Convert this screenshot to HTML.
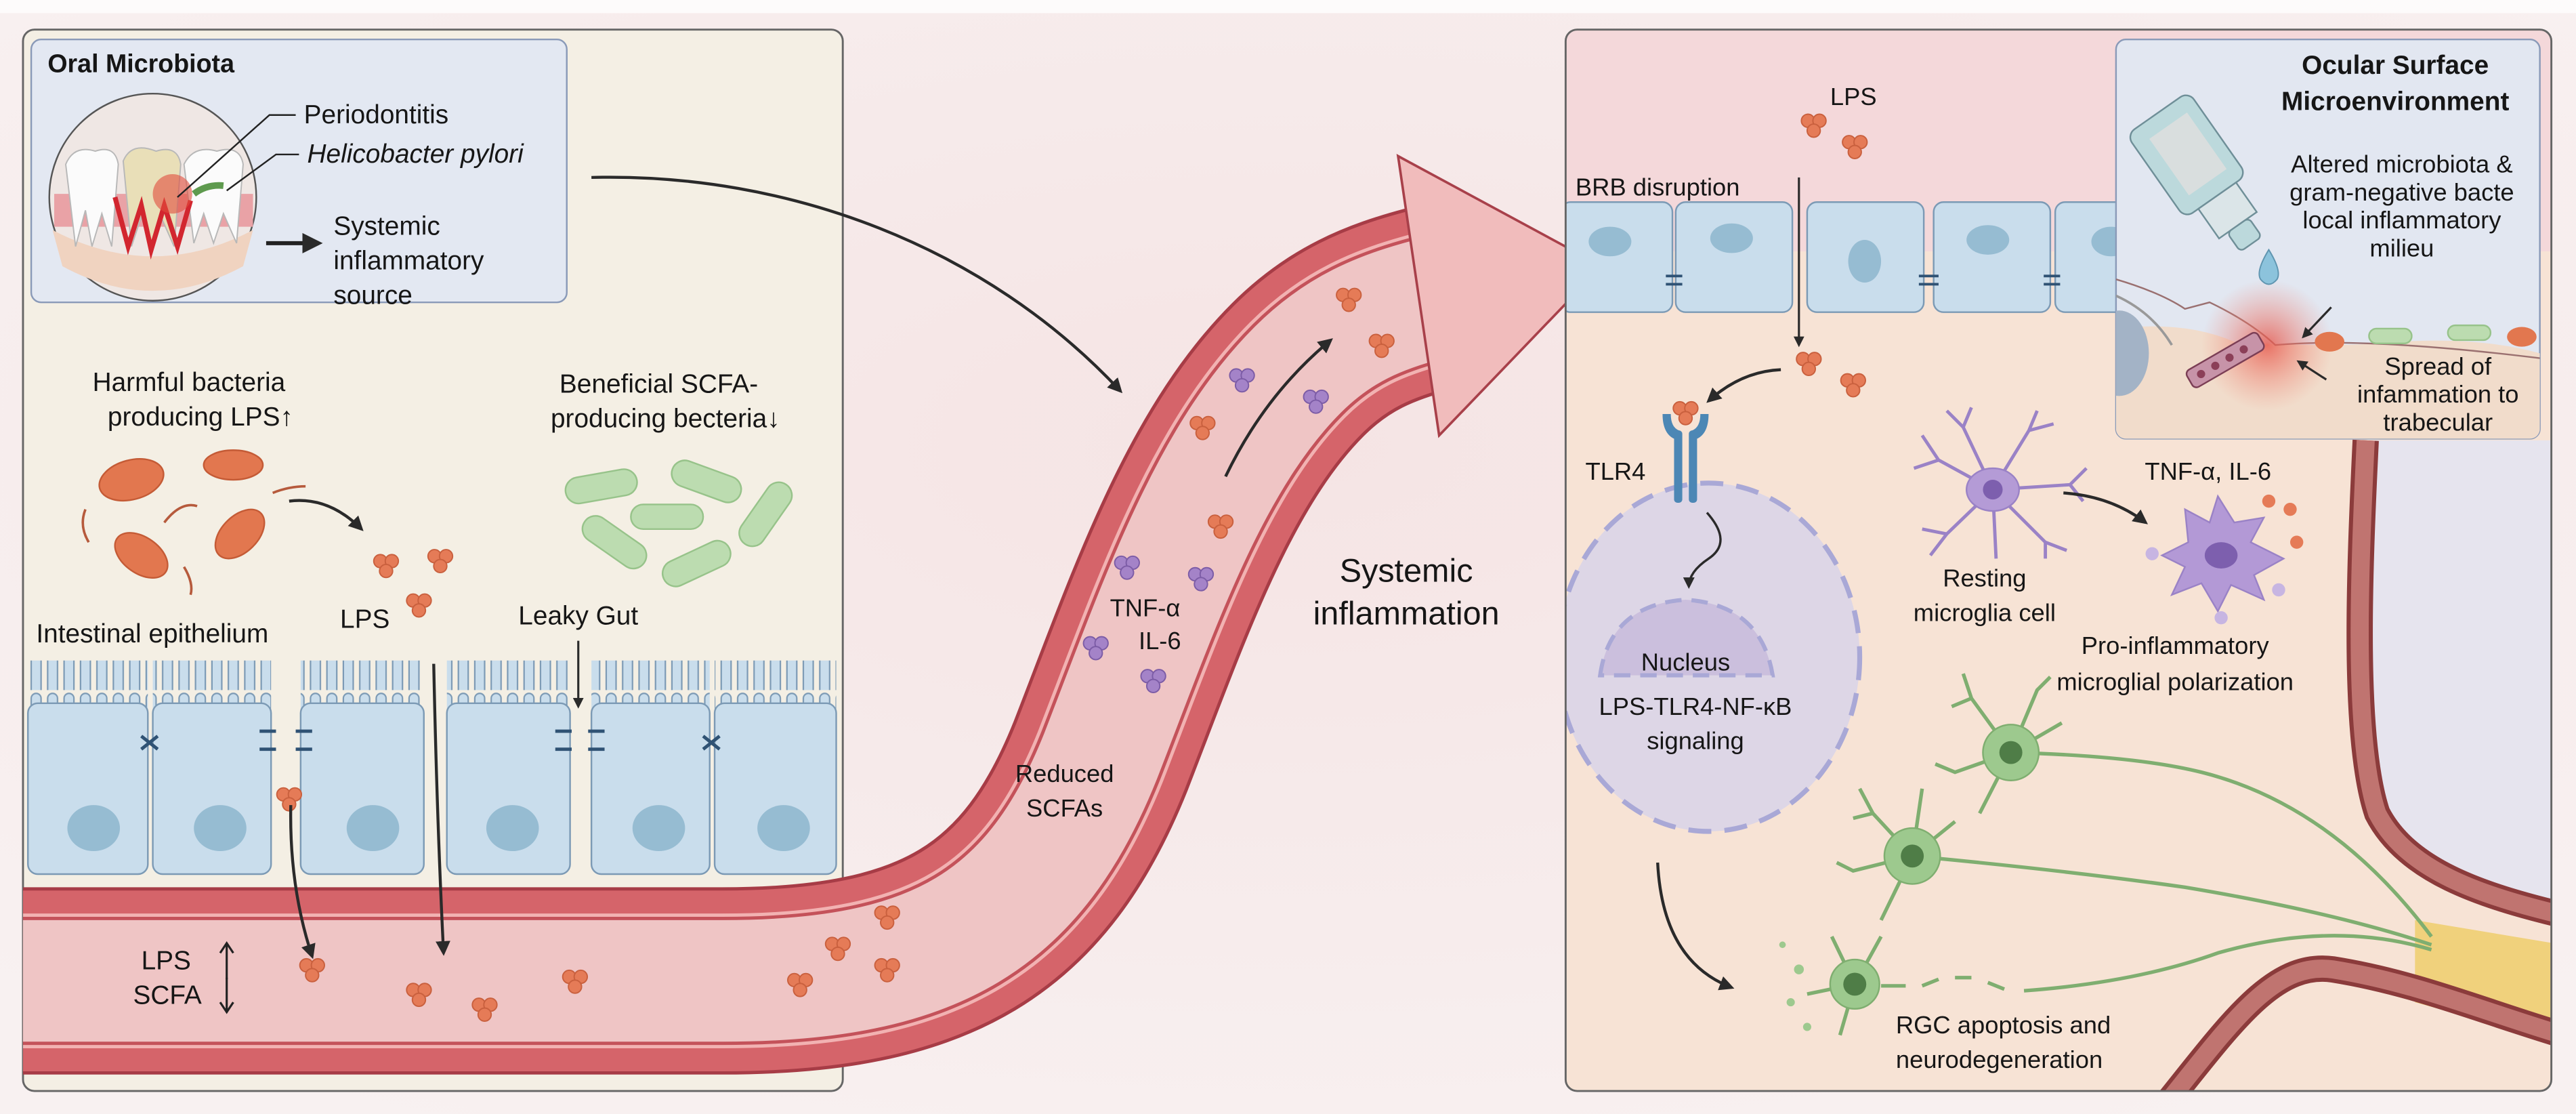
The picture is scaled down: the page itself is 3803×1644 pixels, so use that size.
<!DOCTYPE html>
<html><head><meta charset="utf-8"><style>
html,body{margin:0;padding:0;background:#f7eeee}
svg{display:block}
text{font-family:"Liberation Sans",sans-serif;fill:#161616}
</style></head><body>
<svg width="3803" height="1644" viewBox="0 0 1568 678" preserveAspectRatio="none" xmlns="http://www.w3.org/2000/svg">
<defs>
<g id="lps"><circle cx="-3.5" cy="-2.5" r="4" fill="#e57b57" stroke="#c9603e" stroke-width="0.8"/><circle cx="3.5" cy="-2.5" r="4" fill="#e57b57" stroke="#c9603e" stroke-width="0.8"/><circle cx="0" cy="3.5" r="4" fill="#e57b57" stroke="#c9603e" stroke-width="0.8"/></g>
<g id="cyt"><circle cx="-3.5" cy="-2.5" r="4" fill="#a483c8" stroke="#7c5ca6" stroke-width="0.8"/><circle cx="3.5" cy="-2.5" r="4" fill="#a483c8" stroke="#7c5ca6" stroke-width="0.8"/><circle cx="0" cy="3.5" r="4" fill="#a483c8" stroke="#7c5ca6" stroke-width="0.8"/></g>
<pattern id="villi" x="17" y="0" width="10" height="30" patternUnits="userSpaceOnUse"><path d="M2 30 V5 a3 3 0 0 1 6 0 V30" fill="#c9ddec" stroke="#7c9ab5" stroke-width="0.9"/></pattern>
<marker id="ah" viewBox="0 0 10 10" refX="8" refY="5" markerWidth="5" markerHeight="5" orient="auto"><path d="M0 0 L10 5 L0 10 Z" fill="#2a2a2a"/></marker>
<radialGradient id="inf"><stop offset="0" stop-color="#e7564a" stop-opacity="0.8"/><stop offset="1" stop-color="#f08a7a" stop-opacity="0"/></radialGradient>
<radialGradient id="bg" cx="0.5" cy="0.4" r="0.7"><stop offset="0" stop-color="#f5e4e4"/><stop offset="1" stop-color="#f8f1f1"/></radialGradient>
<clipPath id="ob"><rect x="1288" y="24" width="258" height="243" rx="6"/></clipPath>
</defs>
<rect width="1568" height="678" fill="url(#bg)"/>
<rect width="1568" height="8" fill="#fdfbfb"/>

<!-- LEFT PANEL -->
<rect x="14" y="18" width="499" height="646" rx="7" fill="#f4efe4" stroke="#666" stroke-width="1.2"/>
<rect x="19" y="24" width="326" height="160" rx="6" fill="#e3e8f2" stroke="#8a9ab8" stroke-width="1"/>
<text x="29" y="44" font-size="15.5" font-weight="bold">Oral Microbiota</text>
<circle cx="93" cy="120" r="63" fill="#efe7e4" stroke="#555" stroke-width="1"/>
<path d="M32 140 Q93 172 154 140 L148 162 Q93 192 38 162Z" fill="#f0d3c0"/>
<path d="M33 118 H154 V138 H33Z" fill="#e9a2a6"/>
<g fill="#fbfbfb" stroke="#b8b8b8" stroke-width="0.8">
<path d="M40 100 Q45 88 58 92 Q70 88 72 100 L68 150 L62 130 L56 150 L52 128 L46 150Z"/>
<path d="M75 98 Q80 86 95 92 Q108 88 110 100 L106 150 L98 132 L92 150 L86 132 L80 150Z" fill="#e9dfb8"/>
<path d="M112 100 Q118 88 132 92 Q146 88 148 100 L144 148 L136 130 L130 148 L124 130 L118 148Z"/>
</g>
<path d="M70 120 L78 150 L86 125 L92 152 L100 125 L108 150 L116 122" fill="none" stroke="#d2262f" stroke-width="3"/>
<circle cx="105" cy="118" r="12" fill="#e14d3c" opacity="0.6"/>
<path d="M118 118 Q126 112 136 113" stroke="#5e9a4e" stroke-width="4" fill="none"/>
<path d="M180 70 H164 L108 120" stroke="#222" stroke-width="1" fill="none"/>
<path d="M182 94 H168 L138 116" stroke="#222" stroke-width="1" fill="none"/>
<text x="185" y="75" font-size="16">Periodontitis</text>
<text x="187" y="99" font-size="16" font-style="italic">Helicobacter pylori</text>
<line x1="162" y1="148" x2="194" y2="148" stroke="#222" stroke-width="2.5" marker-end="url(#ah)"/>
<text x="203" y="143" font-size="16">Systemic</text>
<text x="203" y="164" font-size="16">inflammatory</text>
<text x="203" y="185" font-size="16">source</text>

<text x="115" y="238" font-size="16" text-anchor="middle">Harmful bacteria</text>
<text x="122" y="259" font-size="16" text-anchor="middle">producing LPS↑</text>
<text x="401" y="239" font-size="16" text-anchor="middle">Beneficial SCFA-</text>
<text x="405" y="260" font-size="16" text-anchor="middle">producing becteria↓</text>
<g fill="#e2774f" stroke="#c45b36" stroke-width="1">
<ellipse cx="80" cy="292" rx="20" ry="12" transform="rotate(-15 80 292)"/>
<ellipse cx="142" cy="283" rx="18" ry="9"/>
<ellipse cx="86" cy="338" rx="18" ry="11" transform="rotate(35 86 338)"/>
<ellipse cx="146" cy="325" rx="18" ry="11" transform="rotate(-45 146 325)"/>
</g>
<g stroke="#b65a3c" stroke-width="1.5" fill="none">
<path d="M52 310 Q48 320 54 330"/><path d="M100 318 Q110 305 120 308"/><path d="M166 300 Q176 296 186 296"/><path d="M112 345 Q118 355 116 362"/>
</g>
<path d="M176 305 Q200 302 220 322" stroke="#2a2a2a" stroke-width="1.8" fill="none" marker-end="url(#ah)"/>
<use href="#lps" x="235" y="344"/><use href="#lps" x="268" y="341"/><use href="#lps" x="255" y="368"/>
<g fill="#bcdcb0" stroke="#97c38a" stroke-width="1">
<rect x="344" y="288" width="44" height="16" rx="8" transform="rotate(-10 366 296)"/>
<rect x="408" y="285" width="44" height="16" rx="8" transform="rotate(20 430 293)"/>
<rect x="384" y="307" width="44" height="15" rx="7.5"/>
<rect x="444" y="305" width="44" height="16" rx="8" transform="rotate(-55 466 313)"/>
<rect x="352" y="322" width="44" height="16" rx="8" transform="rotate(35 374 330)"/>
<rect x="402" y="335" width="44" height="16" rx="8" transform="rotate(-25 424 343)"/>
</g>
<text x="207" y="382" font-size="16">LPS</text>
<text x="22" y="391" font-size="16">Intestinal epithelium</text>
<text x="352" y="380" font-size="16" text-anchor="middle">Leaky Gut</text>
<line x1="352" y1="390" x2="352" y2="430" stroke="#2a2a2a" stroke-width="1.3" marker-end="url(#ah)"/>
<g stroke="#7c9ab5" stroke-width="1">
<rect x="17" y="402" width="73" height="30" fill="url(#villi)" stroke="none"/><rect x="17" y="428" width="73" height="104" rx="6" fill="#c9ddec"/>
<rect x="93" y="402" width="72" height="30" fill="url(#villi)" stroke="none"/><rect x="93" y="428" width="72" height="104" rx="6" fill="#c9ddec"/>
<rect x="183" y="402" width="75" height="30" fill="url(#villi)" stroke="none"/><rect x="183" y="428" width="75" height="104" rx="6" fill="#c9ddec"/>
<rect x="272" y="402" width="75" height="30" fill="url(#villi)" stroke="none"/><rect x="272" y="428" width="75" height="104" rx="6" fill="#c9ddec"/>
<rect x="360" y="402" width="72" height="30" fill="url(#villi)" stroke="none"/><rect x="360" y="428" width="72" height="104" rx="6" fill="#c9ddec"/>
<rect x="435" y="402" width="74" height="30" fill="url(#villi)" stroke="none"/><rect x="435" y="428" width="74" height="104" rx="6" fill="#c9ddec"/>
</g>
<g fill="#96bcd2"><ellipse cx="57" cy="504" rx="16" ry="14"/><ellipse cx="134" cy="504" rx="16" ry="14"/><ellipse cx="227" cy="504" rx="16" ry="14"/><ellipse cx="312" cy="504" rx="16" ry="14"/><ellipse cx="401" cy="504" rx="16" ry="14"/><ellipse cx="477" cy="504" rx="16" ry="14"/></g>
<g stroke="#2f5274" stroke-width="2"><path d="M86 448 L96 456 M86 456 L96 448"/><path d="M428 448 L438 456 M428 456 L438 448"/><path d="M158 445 H168 M158 456 H168 M180 445 H190 M180 456 H190"/><path d="M338 445 H348 M338 456 H348 M358 445 H368 M358 456 H368"/></g>
<use href="#lps" x="176" y="486"/>

<!-- VESSEL -->
<g fill="none">
<path d="M14 597 H440 C570 597 630 560 670 460 C705 370 735 280 790 225 C815 200 840 190 870 182" stroke="#a73c46" stroke-width="114"/>
<path d="M14 597 H440 C570 597 630 560 670 460 C705 370 735 280 790 225 C815 200 840 190 870 182" stroke="#d5646a" stroke-width="110"/>
<path d="M14 597 H440 C570 597 630 560 670 460 C705 370 735 280 790 225 C815 200 840 190 870 182" stroke="#f2b2b2" stroke-width="82"/>
<path d="M14 597 H440 C570 597 630 560 670 460 C705 370 735 280 790 225 C815 200 840 190 870 182" stroke="#c4525a" stroke-width="78"/>
<path d="M14 597 H440 C570 597 630 560 670 460 C705 370 735 280 790 225 C815 200 840 190 870 182" stroke="#efc5c5" stroke-width="74"/>
</g>
<polygon points="851,95 975,162 876,265" fill="#f1bcbc" stroke="#a8404a" stroke-width="1.5"/>
<path d="M177 490 Q176 540 190 582" stroke="#2a2a2a" stroke-width="1.8" fill="none" marker-end="url(#ah)"/>
<path d="M264 404 Q266 500 270 580" stroke="#2a2a2a" stroke-width="1.8" fill="none" marker-end="url(#ah)"/>
<text x="86" y="590" font-size="16">LPS</text><text x="81" y="611" font-size="16">SCFA</text>
<path d="M138 596 V575 M134 580 L138 574 L142 580" stroke="#222" stroke-width="1.3" fill="none"/>
<path d="M138 595 V615 M134 610 L138 616 L142 610" stroke="#222" stroke-width="1.3" fill="none"/>
<use href="#lps" x="190" y="590"/><use href="#lps" x="255" y="605"/><use href="#lps" x="295" y="614"/><use href="#lps" x="350" y="597"/><use href="#lps" x="487" y="599"/><use href="#lps" x="510" y="577"/><use href="#lps" x="540" y="558"/><use href="#lps" x="540" y="590"/>
<use href="#lps" x="732" y="260"/><use href="#lps" x="743" y="320"/><use href="#lps" x="821" y="182"/><use href="#lps" x="841" y="210"/>
<use href="#cyt" x="756" y="231"/><use href="#cyt" x="686" y="345"/><use href="#cyt" x="731" y="352"/><use href="#cyt" x="667" y="394"/><use href="#cyt" x="702" y="414"/><use href="#cyt" x="801" y="244"/>
<path d="M746 290 Q770 240 810 207" stroke="#2a2a2a" stroke-width="1.8" fill="none" marker-end="url(#ah)"/>
<text x="697" y="375" font-size="15" text-anchor="middle">TNF-α</text>
<text x="706" y="395" font-size="15" text-anchor="middle">IL-6</text>
<text x="648" y="476" font-size="15" text-anchor="middle">Reduced</text>
<text x="648" y="497" font-size="15" text-anchor="middle">SCFAs</text>
<path d="M360 108 C480 105 600 150 682 238" stroke="#2a2a2a" stroke-width="1.8" fill="none" marker-end="url(#ah)"/>
<text x="856" y="354" font-size="20" text-anchor="middle">Systemic</text>
<text x="856" y="380" font-size="20" text-anchor="middle">inflammation</text>

<!-- RIGHT PANEL -->
<clipPath id="rp"><rect x="953" y="18" width="600" height="646" rx="7"/></clipPath>
<g clip-path="url(#rp)">
<rect x="953" y="18" width="600" height="646" fill="#f7e3d5"/>
<rect x="953" y="18" width="600" height="135" fill="#f4d8da"/>
<path d="M1440 268 H1560 V557 C1510 545 1465 530 1447 495 C1432 450 1436 350 1440 268Z" fill="#e6e4ee"/>
<path d="M1440 268 C1436 350 1432 450 1447 495 C1465 530 1510 545 1560 557" fill="none" stroke="#8b3b3b" stroke-width="16"/>
<path d="M1440 268 C1436 350 1432 450 1447 495 C1465 530 1510 545 1560 557" fill="none" stroke="#c07470" stroke-width="11"/>
<path d="M1470 560 L1560 575 L1560 635 L1470 610Z" fill="#f0d17c"/>
<path d="M1320 670 C1360 620 1385 585 1420 590 C1470 598 1510 615 1560 630" fill="none" stroke="#8b3b3b" stroke-width="16"/>
<path d="M1320 670 C1360 620 1385 585 1420 590 C1470 598 1510 615 1560 630" fill="none" stroke="#c07470" stroke-width="11"/>
<g fill="#c9ddec" stroke="#7c9ab5" stroke-width="1">
<rect x="950" y="123" width="68" height="67" rx="6"/><rect x="1020" y="123" width="71" height="67" rx="6"/><rect x="1100" y="123" width="71" height="67" rx="6"/><rect x="1177" y="123" width="71" height="67" rx="6"/><rect x="1251" y="123" width="50" height="67" rx="6"/>
</g>
<g fill="#96bcd2"><ellipse cx="980" cy="147" rx="13" ry="9"/><ellipse cx="1054" cy="145" rx="13" ry="9"/><ellipse cx="1135" cy="159" rx="10" ry="13"/><ellipse cx="1210" cy="146" rx="13" ry="9"/><ellipse cx="1285" cy="147" rx="12" ry="9"/></g>
<g stroke="#2f5274" stroke-width="1.6"><path d="M1014 168 H1024 M1014 173 H1024"/><path d="M1168 168 H1180 M1168 173 H1180"/><path d="M1244 168 H1254 M1244 173 H1254"/></g>
<text x="959" y="119" font-size="15">BRB disruption</text>
<text x="1114" y="64" font-size="15">LPS</text>
<use href="#lps" x="1104" y="76"/><use href="#lps" x="1129" y="89"/>
<line x1="1095" y1="108" x2="1095" y2="210" stroke="#2a2a2a" stroke-width="1.3" marker-end="url(#ah)"/>
<use href="#lps" x="1101" y="221"/><use href="#lps" x="1128" y="234"/>
<path d="M1084 225 Q1060 226 1040 244" stroke="#2a2a2a" stroke-width="1.8" fill="none" marker-end="url(#ah)"/>
<ellipse cx="1040" cy="400" rx="92" ry="106" fill="#ddd6e6" stroke="#a9a8d6" stroke-width="3" stroke-dasharray="14 8"/>
<path d="M974 411 Q980 368 1026 365 Q1072 368 1079 411Z" fill="#cbbfdd" stroke="#a9a8d6" stroke-width="2.5" stroke-dasharray="10 6"/>
<g fill="#4c87b5"><rect x="1019" y="262" width="5" height="44" rx="2"/><rect x="1028" y="262" width="5" height="44" rx="2"/><path d="M1012 252 Q1012 266 1022 268 V262 Q1017 260 1017 252Z"/><path d="M1040 252 Q1040 266 1030 268 V262 Q1035 260 1035 252Z"/></g>
<use href="#lps" x="1026" y="251"/>
<text x="965" y="292" font-size="15">TLR4</text>
<path d="M1039 312 Q1055 330 1040 340 Q1028 348 1028 357" stroke="#2a2a2a" stroke-width="1.4" fill="none" marker-end="url(#ah)"/>
<text x="1026" y="408" font-size="15" text-anchor="middle">Nucleus</text>
<text x="1032" y="435" font-size="15" text-anchor="middle">LPS-TLR4-NF-κB</text>
<text x="1032" y="456" font-size="15" text-anchor="middle">signaling</text>
<path d="M1009 525 Q1012 585 1054 601" stroke="#2a2a2a" stroke-width="1.8" fill="none" marker-end="url(#ah)"/>
<g stroke="#9a82c6" stroke-width="2" fill="none">
<path d="M1213 298 L1180 280 L1170 265 M1180 280 L1165 285 M1213 298 L1195 260 L1200 248 M1195 260 L1185 250 M1213 298 L1235 262 L1240 250 M1235 262 L1250 258 M1213 298 L1260 295 L1270 285 M1260 295 L1268 305 M1213 298 L1245 330 L1258 335 M1245 330 L1245 340 M1213 298 L1185 325 L1175 338 M1185 325 L1170 322 M1213 298 L1215 340"/>
</g>
<ellipse cx="1213" cy="298" rx="16" ry="13" fill="#b49bd6" stroke="#9a82c6"/>
<circle cx="1213" cy="298" r="6" fill="#7d5fae"/>
<path d="M1256 300 Q1285 302 1306 318" stroke="#2a2a2a" stroke-width="1.8" fill="none" marker-end="url(#ah)"/>
<path d="M1330 310 L1345 318 L1350 302 L1360 318 L1378 315 L1370 330 L1390 340 L1372 350 L1378 365 L1358 356 L1350 372 L1340 355 L1322 362 L1330 345 L1316 338 L1332 330Z" fill="#b399d6" stroke="#9a82c6"/>
<ellipse cx="1352" cy="338" rx="10" ry="8" fill="#7d5fae"/>
<g fill="#e57b57"><circle cx="1381" cy="305" r="4"/><circle cx="1394" cy="310" r="4"/><circle cx="1398" cy="330" r="4"/></g>
<g fill="#c7b5e2"><circle cx="1310" cy="337" r="4"/><circle cx="1387" cy="359" r="4"/><circle cx="1352" cy="376" r="4"/></g>
<text x="1208" y="357" font-size="15" text-anchor="middle">Resting</text>
<text x="1208" y="378" font-size="15" text-anchor="middle">microglia cell</text>
<text x="1344" y="292" font-size="15" text-anchor="middle">TNF-α, IL-6</text>
<text x="1324" y="398" font-size="15" text-anchor="middle">Pro-inflammatory</text>
<text x="1324" y="420" font-size="15" text-anchor="middle">microglial polarization</text>
<g stroke="#7fae70" stroke-width="2.2" fill="none">
<path d="M1224 458 Q1300 460 1340 470 Q1420 490 1480 570"/>
<path d="M1164 521 Q1260 530 1330 540 Q1420 555 1480 575"/>
<path d="M1145 600 H1160 M1170 600 L1180 596 M1190 595 H1200 M1210 598 L1220 602 M1232 603 Q1300 598 1350 580 Q1420 560 1480 578"/>
<path d="M1224 458 L1200 425 L1195 410 M1200 425 L1188 430 M1224 458 L1240 420 L1248 412 M1224 458 L1190 470 L1178 465 M1224 458 L1205 495 M1224 458 L1255 440"/>
<path d="M1164 521 L1140 495 L1132 480 M1140 495 L1128 498 M1164 521 L1170 480 M1164 521 L1128 530 L1118 525 M1164 521 L1145 560 M1164 521 L1190 500"/>
<path d="M1129 599 L1115 570 M1129 599 L1100 605 M1129 599 L1120 630 M1129 599 L1145 570"/>
</g>
<g fill="#9dc98e" stroke="#7fae70"><circle cx="1224" cy="458" r="17"/><circle cx="1164" cy="521" r="17"/><circle cx="1129" cy="599" r="15"/></g>
<g fill="#4f7d47"><circle cx="1224" cy="458" r="7"/><circle cx="1164" cy="521" r="7"/><circle cx="1129" cy="599" r="7"/></g>
<g fill="#9dc98e"><circle cx="1095" cy="590" r="3"/><circle cx="1090" cy="610" r="2.5"/><circle cx="1100" cy="625" r="2.5"/><circle cx="1085" cy="575" r="2"/></g>
<text x="1154" y="629" font-size="15">RGC apoptosis and</text>
<text x="1154" y="650" font-size="15">neurodegeneration</text>
<rect x="1288" y="24" width="258" height="243" rx="6" fill="#e2e7f1" stroke="#8a9ab8"/>
<g clip-path="url(#ob)">
<path d="M1288 200 Q1330 195 1360 208 Q1420 212 1460 208 Q1510 205 1546 215 V270 H1288Z" fill="#f1dccb"/>
<path d="M1288 170 Q1315 178 1330 188 L1345 184 Q1370 196 1385 210 Q1440 205 1546 218" stroke="#9a7070" stroke-width="1" fill="none"/>
<path d="M1288 180 Q1310 190 1322 210" stroke="#999" stroke-width="1.5" fill="none"/>
<ellipse cx="1290" cy="215" rx="18" ry="26" fill="#a3b3c6"/>
<circle cx="1380" cy="210" r="40" fill="url(#inf)"/>
</g>
<g transform="rotate(-30 1355 220)"><rect x="1330" y="213" width="50" height="12" rx="3" fill="#c793a8" stroke="#7b3e55"/><g fill="#8b3f58"><circle cx="1338" cy="219" r="2.5"/><circle cx="1348" cy="219" r="2.5"/><circle cx="1358" cy="219" r="2.5"/><circle cx="1368" cy="219" r="2.5"/></g></g>
<g transform="rotate(-35 1335 100)"><rect x="1312" y="62" width="46" height="62" rx="6" fill="#bcd9dc" stroke="#6f8f98"/><rect x="1322" y="72" width="28" height="42" fill="#d9dede"/><rect x="1322" y="124" width="28" height="22" fill="#dbe5e8" stroke="#6f8f98"/><rect x="1328" y="146" width="16" height="14" rx="3" fill="#bcd9dc" stroke="#6f8f98"/></g>
<path d="M1381 152 Q1373 165 1376 170 Q1381 176 1386 170 Q1389 165 1381 152Z" fill="#8cc3dc" stroke="#5f95b0" stroke-width="0.8"/>
<line x1="1419" y1="187" x2="1402" y2="205" stroke="#2a2a2a" stroke-width="1.3" marker-end="url(#ah)"/>
<line x1="1416" y1="231" x2="1399" y2="220" stroke="#2a2a2a" stroke-width="1.3" marker-end="url(#ah)"/>
<g fill="#e2774f"><ellipse cx="1418" cy="208" rx="9" ry="6"/><ellipse cx="1535" cy="205" rx="9" ry="6"/></g>
<g fill="#bcdcb0" stroke="#97c38a"><rect x="1442" y="200" width="26" height="9" rx="4.5"/><rect x="1490" y="198" width="26" height="9" rx="4.5"/></g>
<text x="1458" y="45" font-size="16" font-weight="bold" text-anchor="middle">Ocular Surface</text>
<text x="1458" y="67" font-size="16" font-weight="bold" text-anchor="middle">Microenvironment</text>
<text x="1462" y="105" font-size="15" text-anchor="middle">Altered microbiota &amp;</text>
<text x="1462" y="122" font-size="15" text-anchor="middle">gram-negative bacte</text>
<text x="1462" y="139" font-size="15" text-anchor="middle">local inflammatory</text>
<text x="1462" y="156" font-size="15" text-anchor="middle">milieu</text>
<text x="1484" y="228" font-size="15" text-anchor="middle">Spread of</text>
<text x="1484" y="245" font-size="15" text-anchor="middle">infammation to</text>
<text x="1484" y="262" font-size="15" text-anchor="middle">trabecular</text>
</g>
<rect x="953" y="18" width="600" height="646" rx="7" fill="none" stroke="#666" stroke-width="1.2"/>
</svg>
</body></html>
